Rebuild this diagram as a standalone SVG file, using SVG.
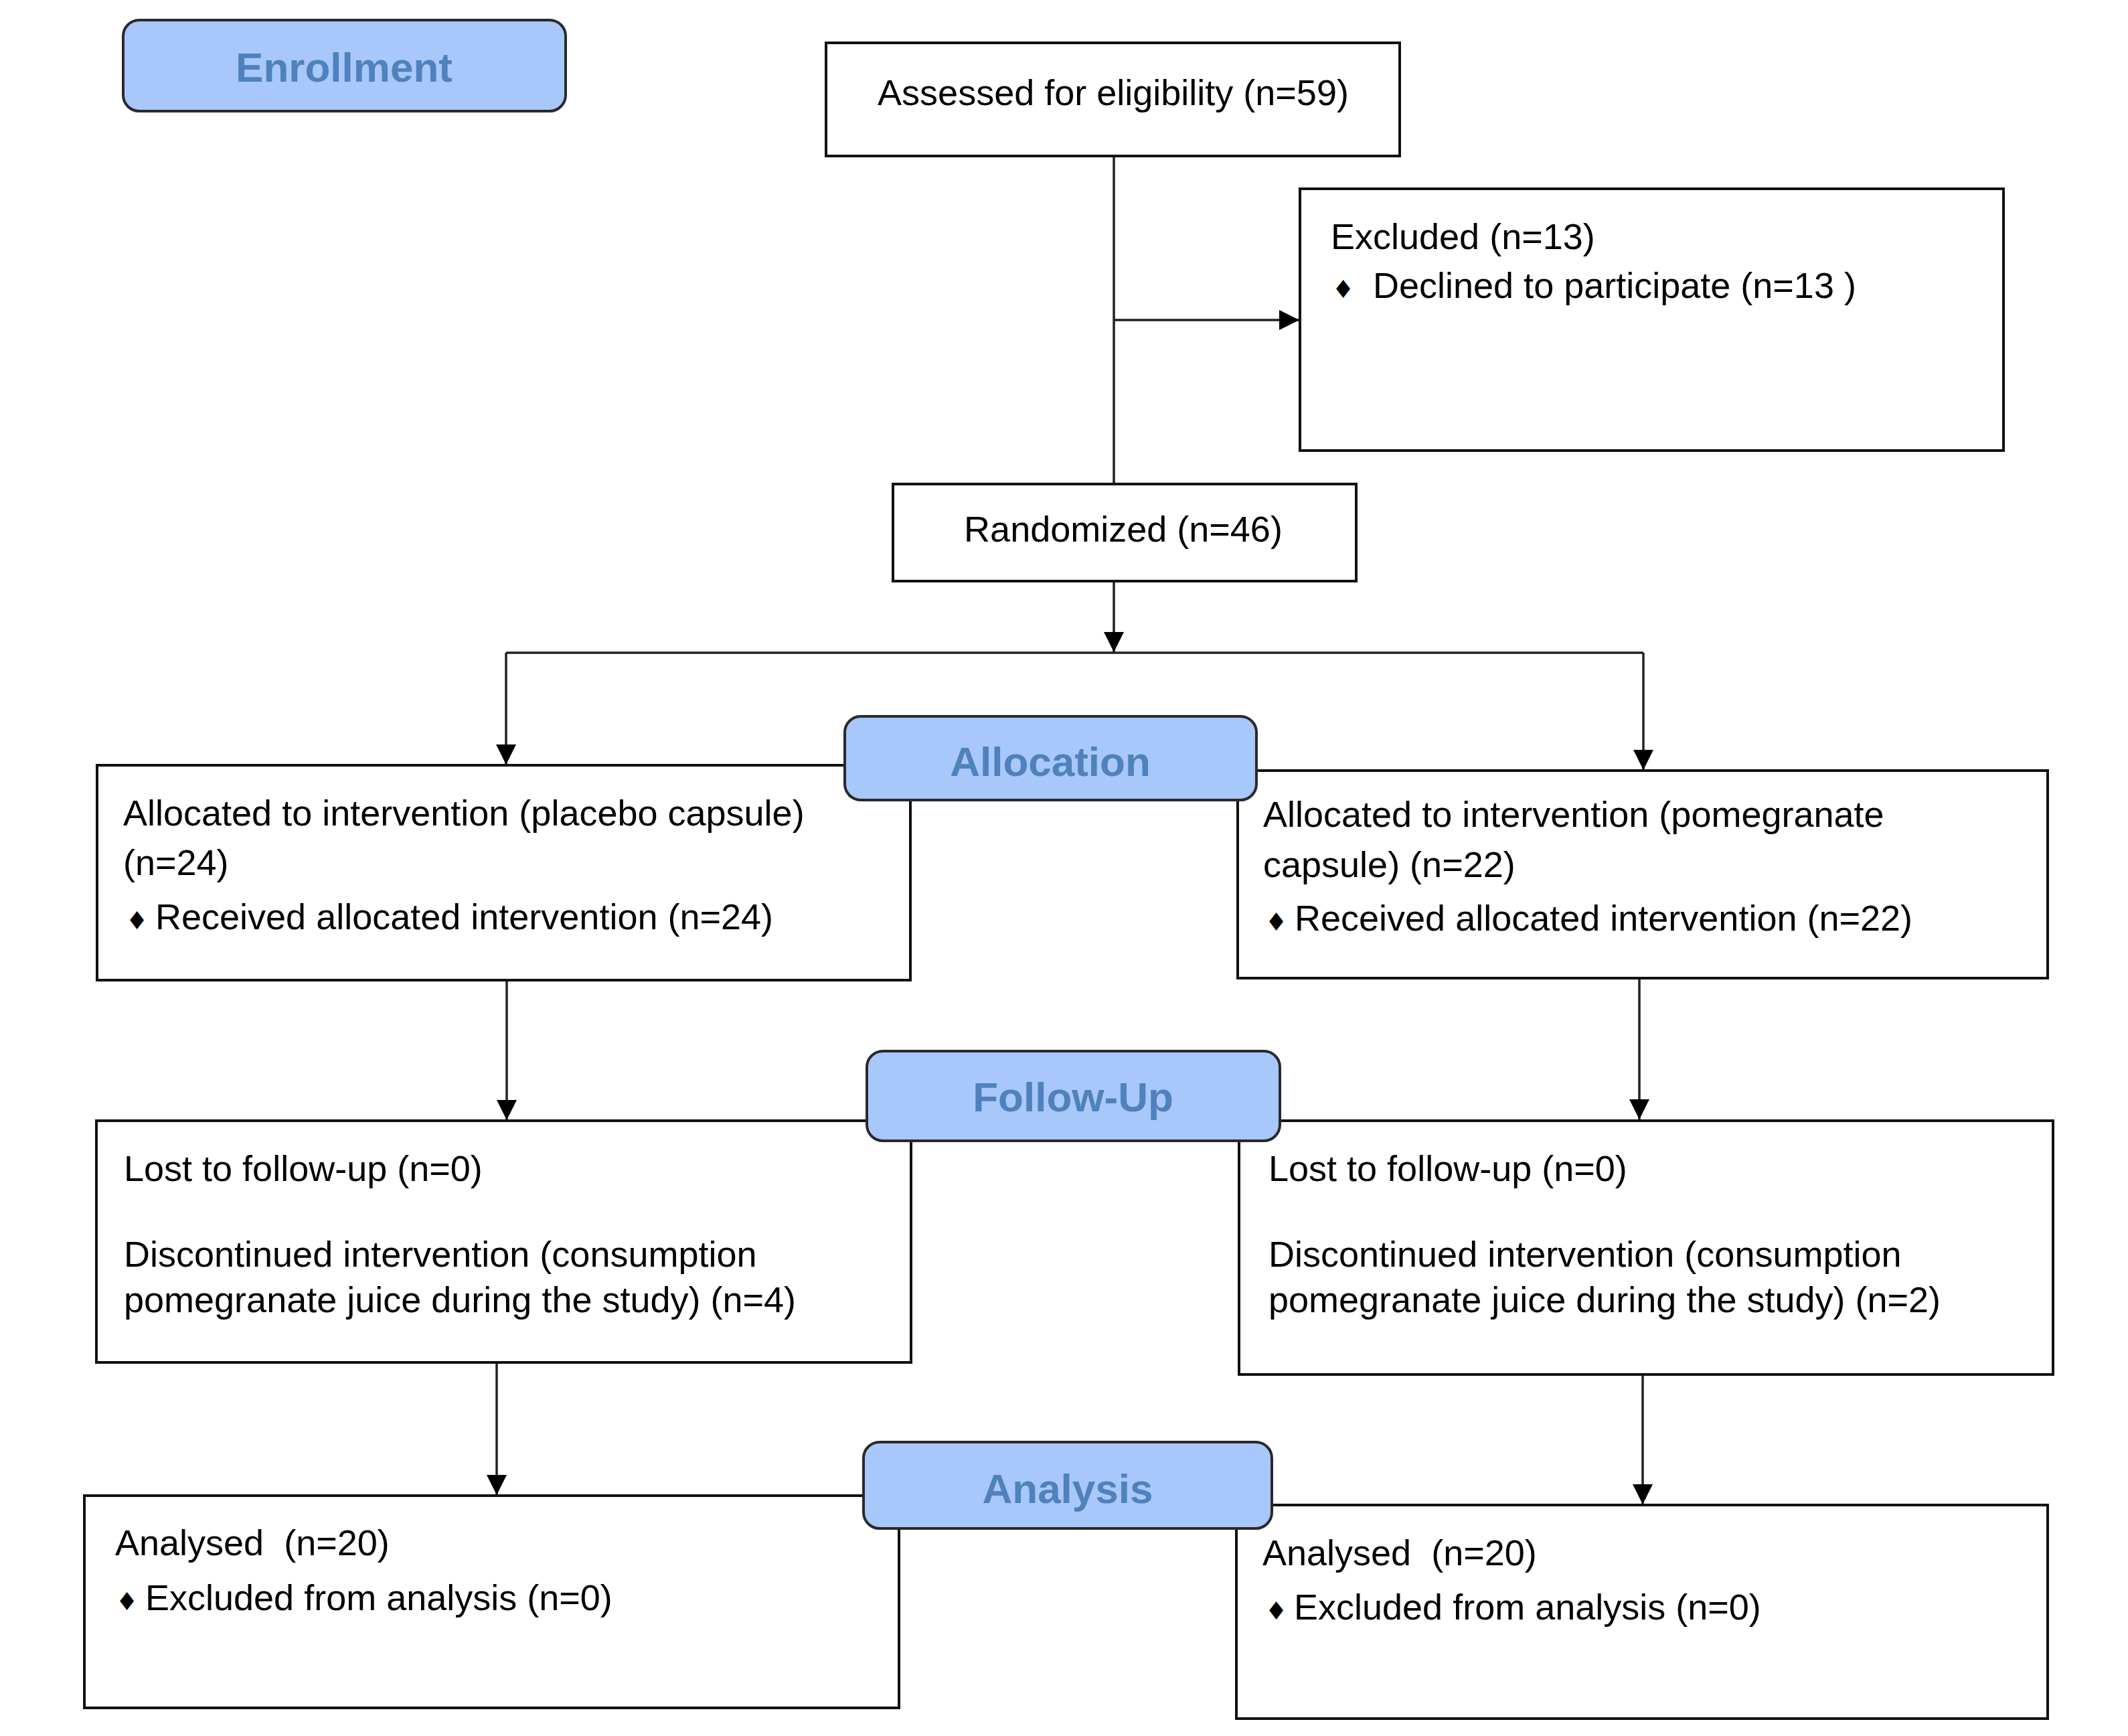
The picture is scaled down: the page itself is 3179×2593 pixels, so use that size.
<svg xmlns="http://www.w3.org/2000/svg" width="3179" height="2593" viewBox="0 0 3179 2593">
<style>
.box{fill:#fff;stroke:#111;stroke-width:4}
.hdr{fill:#a8c7fa;stroke:#2a2a2a;stroke-width:4}
.ht{font-family:"Liberation Sans",Arial,sans-serif;font-weight:bold;font-size:62px;fill:#4f81bd;text-anchor:middle}
.t{font-family:"Liberation Sans",Arial,sans-serif;font-size:54px;fill:#000}
.bul{font-family:"DejaVu Sans",sans-serif;font-size:37px}
.c{fill:none;stroke:#222;stroke-width:3.5}
</style>
<defs>
<marker id="ah" markerUnits="userSpaceOnUse" markerWidth="32" markerHeight="32" refX="30" refY="15" orient="auto">
<path d="M0,0 L30,15 L0,30 Z" fill="#000"/>
</marker>
</defs>
<rect width="3179" height="2593" fill="#fff"/>
<g id="connectors">
<line class="c" x1="1664" y1="233" x2="1664" y2="724"/>
<line class="c" x1="1664" y1="478" x2="1941" y2="478" marker-end="url(#ah)"/>
<line class="c" x1="1664" y1="868" x2="1664" y2="974" marker-end="url(#ah)"/>
<line class="c" x1="756" y1="975" x2="2455" y2="975"/>
<line class="c" x1="756" y1="975" x2="756" y2="1142" marker-end="url(#ah)"/>
<line class="c" x1="2455" y1="975" x2="2455" y2="1150" marker-end="url(#ah)"/>
<line class="c" x1="757" y1="1464" x2="757" y2="1673" marker-end="url(#ah)"/>
<line class="c" x1="2449" y1="1461" x2="2449" y2="1672" marker-end="url(#ah)"/>
<line class="c" x1="742" y1="2035" x2="742" y2="2233" marker-end="url(#ah)"/>
<line class="c" x1="2454" y1="2053" x2="2454" y2="2247" marker-end="url(#ah)"/>
</g>
<g id="assessed">
<rect class="box" x="1234" y="64" width="857" height="169"/>
<text class="t" x="1663" y="157" text-anchor="middle">Assessed for eligibility (n=59)</text>
</g>
<g id="excluded">
<rect class="box" x="1942" y="282" width="1051" height="391"/>
<text class="t" x="1988" y="372">Excluded (n=13)</text>
<text class="t" x="1990" y="445"><tspan class="bul">♦</tspan><tspan x="2051">Declined to participate (n=13 )</tspan></text>
</g>
<g id="randomized">
<rect class="box" x="1334" y="723" width="692" height="145"/>
<text class="t" x="1678" y="809" text-anchor="middle">Randomized (n=46)</text>
</g>
<g id="alloc-left">
<rect class="box" x="145" y="1143" width="1215" height="321"/>
<text class="t" x="184" y="1233">Allocated to intervention (placebo capsule)</text>
<text class="t" x="184" y="1307">(n=24)</text>
<text class="t" x="188" y="1388"><tspan class="bul">♦</tspan><tspan x="232">Received allocated intervention (n=24)</tspan></text>
</g>
<g id="alloc-right">
<rect class="box" x="1849" y="1151" width="1210" height="310"/>
<text class="t" x="1887" y="1235">Allocated to intervention (pomegranate</text>
<text class="t" x="1887" y="1310">capsule) (n=22)</text>
<text class="t" x="1890" y="1390"><tspan class="bul">♦</tspan><tspan x="1934">Received allocated intervention (n=22)</tspan></text>
</g>
<g id="followup-left">
<rect class="box" x="144" y="1674" width="1217" height="361"/>
<text class="t" x="185" y="1764">Lost to follow-up (n=0)</text>
<text class="t" x="185" y="1892">Discontinued intervention (consumption</text>
<text class="t" x="185" y="1960">pomegranate juice during the study) (n=4)</text>
</g>
<g id="followup-right">
<rect class="box" x="1851" y="1674" width="1216" height="379"/>
<text class="t" x="1895" y="1764">Lost to follow-up (n=0)</text>
<text class="t" x="1895" y="1892">Discontinued intervention (consumption</text>
<text class="t" x="1895" y="1960">pomegranate juice during the study) (n=2)</text>
</g>
<g id="analysis-left">
<rect class="box" x="126" y="2234" width="1217" height="317"/>
<text class="t" x="172" y="2323" xml:space="preserve">Analysed  (n=20)</text>
<text class="t" x="173" y="2405"><tspan class="bul">♦</tspan><tspan x="217">Excluded from analysis (n=0)</tspan></text>
</g>
<g id="analysis-right">
<rect class="box" x="1847" y="2248" width="1212" height="319"/>
<text class="t" x="1886" y="2338" xml:space="preserve">Analysed  (n=20)</text>
<text class="t" x="1890" y="2419"><tspan class="bul">♦</tspan><tspan x="1933">Excluded from analysis (n=0)</tspan></text>
</g>
<g id="hdr-enrollment">
<rect class="hdr" x="184" y="30" width="661" height="136" rx="24"/>
<text class="ht" x="514" y="122">Enrollment</text>
</g>
<g id="hdr-allocation">
<rect class="hdr" x="1262" y="1070" width="615" height="125" rx="24"/>
<text class="ht" x="1569" y="1159">Allocation</text>
</g>
<g id="hdr-followup">
<rect class="hdr" x="1295" y="1570" width="617" height="134" rx="24"/>
<text class="ht" x="1603" y="1660">Follow-Up</text>
</g>
<g id="hdr-analysis">
<rect class="hdr" x="1290" y="2154" width="610" height="129" rx="24"/>
<text class="ht" x="1595" y="2245">Analysis</text>
</g>
</svg>
